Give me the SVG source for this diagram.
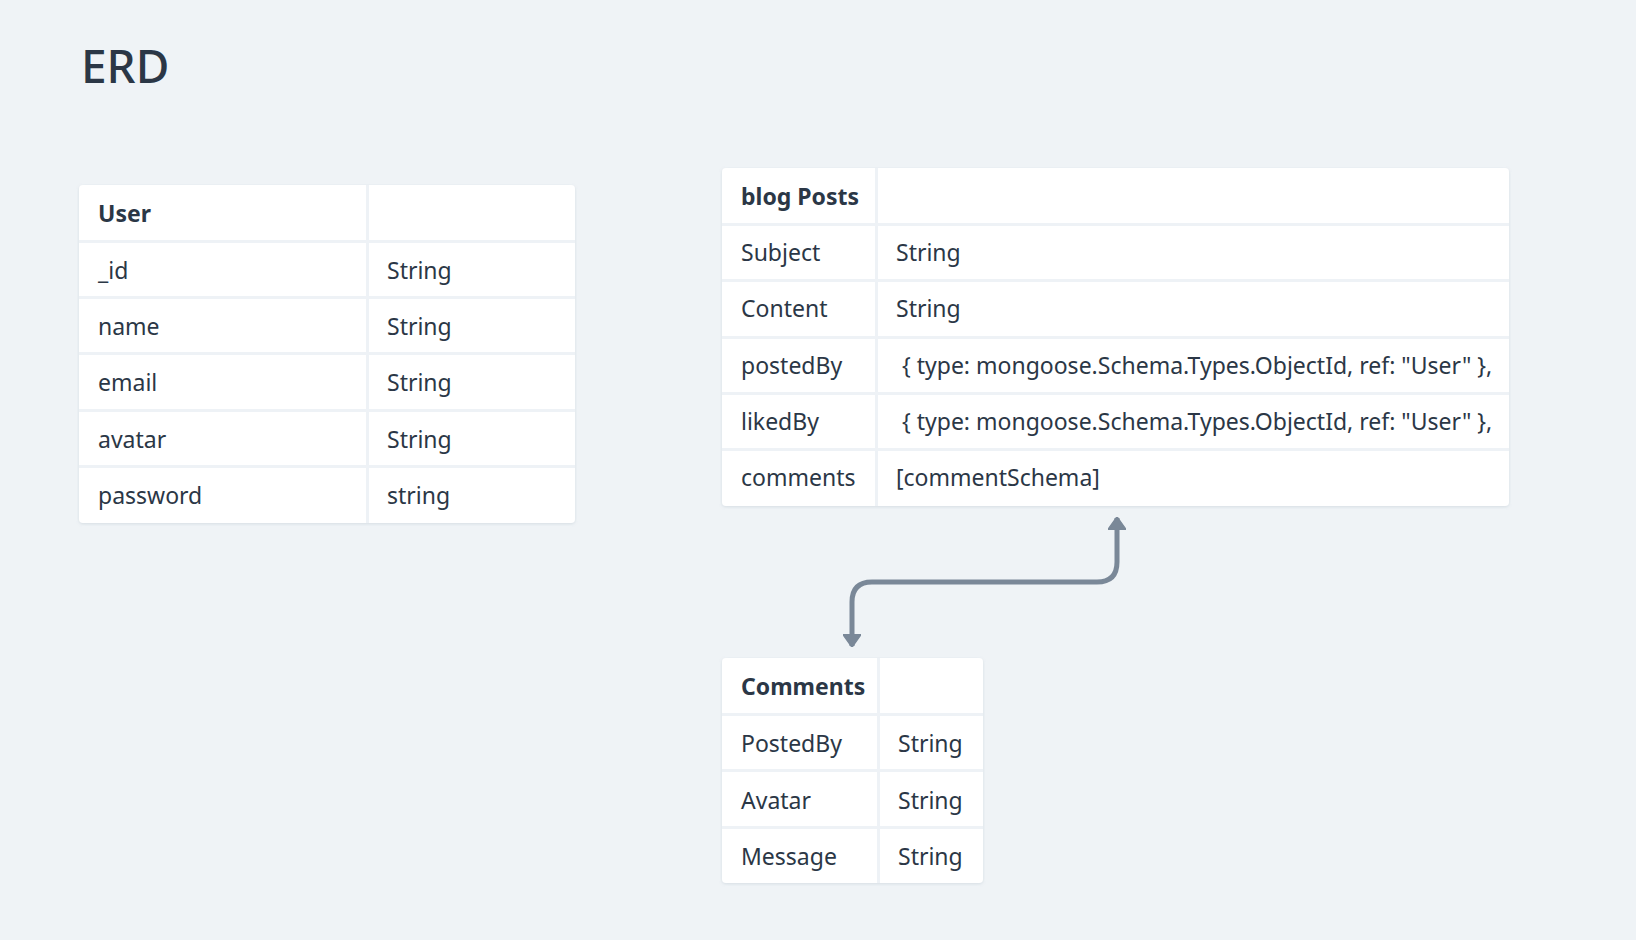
<svg xmlns="http://www.w3.org/2000/svg" width="1636" height="940" viewBox="0 0 1636 940">
  <style>
    .t { font-family: "Noto Sans", "Liberation Sans", sans-serif; font-size: 23px; fill: #2b3746; }
    .h { font-weight: bold; }
    .title { font-family: "Noto Sans", "Liberation Sans", sans-serif; font-size: 46px; font-weight: 500; fill: #2b3746; }
    .card { fill: #ffffff; filter: url(#sh); }
    .gap { fill: #eef2f6; }
    .conn { fill: none; stroke: #7a8898; stroke-width: 5; stroke-linecap: butt; }
  </style>
  <defs>
    <filter id="sh" x="-5%" y="-5%" width="110%" height="115%">
      <feDropShadow dx="0" dy="1" stdDeviation="1.5" flood-color="#8a9aab" flood-opacity="0.25"/>
    </filter>
    <marker id="arr" viewBox="0 0 10 14" preserveAspectRatio="none" refX="9" refY="7" markerWidth="2.6" markerHeight="3.7" orient="auto-start-reverse" markerUnits="strokeWidth">
      <path d="M0,0 L10,7 L0,14 z" fill="#7a8898" stroke="#7a8898" stroke-width="1" stroke-linejoin="round"/>
    </marker>
  </defs>
  <rect width="1636" height="940" fill="#eff3f6"/>
  <text class="title" x="81" y="83">ERD</text>

  <g id="user">
    <rect class="card" x="79" y="185" width="496" height="338" rx="4"/>
    <rect class="gap" x="366" y="185" width="3" height="338"/>
    <rect class="gap" x="79" y="240" width="496" height="3"/>
    <rect class="gap" x="79" y="296" width="496" height="3"/>
    <rect class="gap" x="79" y="352" width="496" height="3"/>
    <rect class="gap" x="79" y="409" width="496" height="3"/>
    <rect class="gap" x="79" y="465" width="496" height="3"/>
    <text class="t h" x="98" y="222">User</text>
    <text class="t" x="98" y="279">_id</text>
    <text class="t" x="387" y="279">String</text>
    <text class="t" x="98" y="335">name</text>
    <text class="t" x="387" y="335">String</text>
    <text class="t" x="98" y="391">email</text>
    <text class="t" x="387" y="391">String</text>
    <text class="t" x="98" y="448">avatar</text>
    <text class="t" x="387" y="448">String</text>
    <text class="t" x="98" y="504">password</text>
    <text class="t" x="387" y="504">string</text>
  </g>

  <g id="blogposts">
    <rect class="card" x="722" y="168" width="787" height="338" rx="4"/>
    <rect class="gap" x="875" y="168" width="3" height="338"/>
    <rect class="gap" x="722" y="223" width="787" height="3"/>
    <rect class="gap" x="722" y="279" width="787" height="3"/>
    <rect class="gap" x="722" y="336" width="787" height="3"/>
    <rect class="gap" x="722" y="392" width="787" height="3"/>
    <rect class="gap" x="722" y="448" width="787" height="3"/>
    <text class="t h" x="741" y="205">blog Posts</text>
    <text class="t" x="741" y="261">Subject</text>
    <text class="t" x="896" y="261">String</text>
    <text class="t" x="741" y="317">Content</text>
    <text class="t" x="896" y="317">String</text>
    <text class="t" x="741" y="374">postedBy</text>
    <text class="t" x="902" y="374">{ type: mongoose.Schema.Types.ObjectId, ref: "User" },</text>
    <text class="t" x="741" y="430">likedBy</text>
    <text class="t" x="902" y="430">{ type: mongoose.Schema.Types.ObjectId, ref: "User" },</text>
    <text class="t" x="741" y="486">comments</text>
    <text class="t" x="896" y="486">[commentSchema]</text>
  </g>

  <g id="comments">
    <rect class="card" x="722" y="658" width="261" height="225" rx="4"/>
    <rect class="gap" x="877" y="658" width="3" height="225"/>
    <rect class="gap" x="722" y="713" width="261" height="3"/>
    <rect class="gap" x="722" y="769" width="261" height="3"/>
    <rect class="gap" x="722" y="826" width="261" height="3"/>
    <text class="t h" x="741" y="695">Comments</text>
    <text class="t" x="741" y="752">PostedBy</text>
    <text class="t" x="898" y="752">String</text>
    <text class="t" x="741" y="809">Avatar</text>
    <text class="t" x="898" y="809">String</text>
    <text class="t" x="741" y="865">Message</text>
    <text class="t" x="898" y="865">String</text>
  </g>

  <g id="connectors">
    <path class="conn" d="M1117,518 L1117,562 Q1117,582 1097,582 L872,582 Q852,582 852,602 L852,646" marker-start="url(#arr)" marker-end="url(#arr)"/>
  </g>
</svg>
